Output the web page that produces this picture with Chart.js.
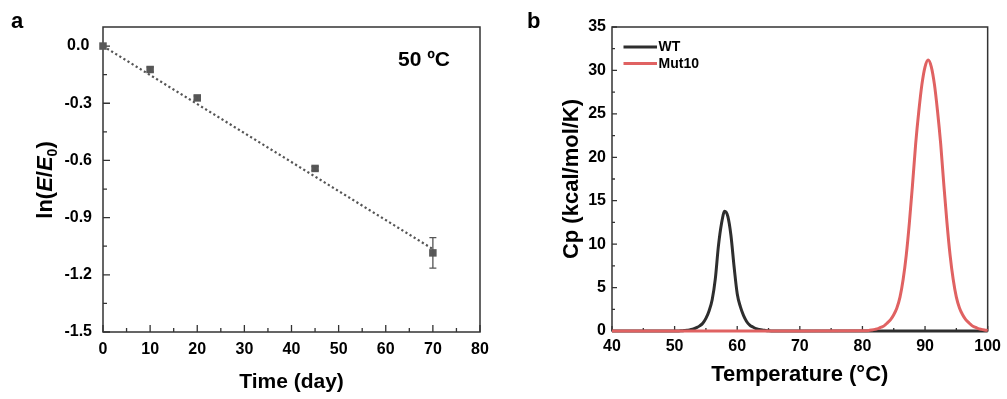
<!DOCTYPE html>
<html><head><meta charset="utf-8">
<script src="https://cdn.jsdelivr.net/npm/chart.js@4/dist/chart.umd.min.js"></script>
<style>
html,body{margin:0;padding:0;background:#fff;}
#wrap{position:relative;width:1007px;height:399px;overflow:hidden;background:#fff;}
#ca{position:absolute;left:0;top:0;}
#cb{position:absolute;left:500px;top:0;}
</style></head><body>
<div id="wrap"><canvas id="ca" width="500" height="399"></canvas><canvas id="cb" width="507" height="399"></canvas></div>
<script>
// ---------- Panel a data ----------
const timeDays = [0, 10, 20, 45, 70];
const lnRatio = [0, -0.123, -0.272, -0.642, -1.085];
const lnRatioErr = [0, 0.012, 0.01, 0.01, 0.08];
const fitDays = [0, 70];
const fitValues = [0, -1.065];
const xTicksA = [0, 10, 20, 30, 40, 50, 60, 70, 80];
const yTicksA = [-1.5, -1.2, -0.9, -0.6, -0.3, 0.0];

// ---------- Panel b data ----------
const tempWT = [40,45,50,50.5,51,51.5,52,52.5,53,53.5,54,54.5,55,55.5,56,56.5,57,57.5,58,58.5,59,59.5,60,60.5,61,61.5,62,62.5,63,63.5,64,64.5,65,66,67,70,80,90,100];
const cpWT   = [0,0,0,0.01,0.02,0.05,0.08,0.15,0.23,0.39,0.59,0.9,1.45,2.3,3.6,6.0,9.8,12.4,13.8,13.2,11.0,7.4,4.3,2.8,1.8,1.1,0.69,0.46,0.28,0.18,0.11,0.07,0.04,0.01,0,0,0,0,0];
const tempMut = [40,50,60,70,80,80.5,81,81.5,82,82.5,83,83.5,84,84.5,85,85.5,86,86.5,87,87.5,88,88.5,89,89.5,90,90.5,91,91.5,92,92.5,93,93.5,94,94.5,95,95.5,96,96.5,97,97.5,98,98.5,99,99.5,100];
const cpMut   = [0,0,0,0,0.02,0.03,0.06,0.12,0.19,0.28,0.44,0.62,0.94,1.31,1.87,2.65,3.9,5.93,8.74,12.48,16.85,21.53,25.27,28.39,30.42,31.2,30.42,28.39,25.27,21.53,16.85,12.48,8.74,5.93,3.9,2.65,1.87,1.31,0.94,0.62,0.44,0.28,0.19,0.12,0.06];
const xTicksB = [40, 50, 60, 70, 80, 90, 100];
const yTicksB = [0, 5, 10, 15, 20, 25, 30, 35];
const seriesNames = ['WT', 'Mut10'];
const seriesColors = ['#2e2e2e', '#e06262'];

const FONT = '"Liberation Sans", Arial, sans-serif';
Chart.defaults.font.family = FONT;
Chart.defaults.color = '#000';

const framePlugin = {
  id: 'frame',
  beforeDatasetsDraw(chart, args, o) {
    const {ctx, chartArea: a, scales} = chart;
    ctx.save();
    ctx.strokeStyle = '#333';
    ctx.lineWidth = 1.5;
    ctx.strokeRect(a.left, a.top, a.right - a.left, a.bottom - a.top);
    ctx.lineWidth = 1.3;
    ctx.beginPath();
    const xs = scales.x, ys = scales.y;
    xs.ticks.forEach((t, i) => {
      const p = xs.getPixelForValue(t.value);
      ctx.moveTo(p, a.bottom); ctx.lineTo(p, a.bottom - o.major);
      if (i < xs.ticks.length - 1) {
        const m = xs.getPixelForValue((t.value + xs.ticks[i + 1].value) / 2);
        ctx.moveTo(m, a.bottom); ctx.lineTo(m, a.bottom - o.minor);
      }
    });
    ys.ticks.forEach((t, i) => {
      const p = ys.getPixelForValue(t.value);
      ctx.moveTo(a.left, p); ctx.lineTo(a.left + o.major, p);
      if (i < ys.ticks.length - 1) {
        const m = ys.getPixelForValue((t.value + ys.ticks[i + 1].value) / 2);
        ctx.moveTo(a.left, m); ctx.lineTo(a.left + o.minor, m);
      }
    });
    ctx.stroke();
    ctx.restore();
  }
};

const errPlugin = {
  id: 'errbars',
  afterDatasetsDraw(chart) {
    const {ctx, scales: {x, y}} = chart;
    ctx.save();
    ctx.strokeStyle = '#555';
    ctx.lineWidth = 1.3;
    ctx.beginPath();
    timeDays.forEach((t, i) => {
      const e = lnRatioErr[i];
      if (!e) return;
      const px = x.getPixelForValue(t);
      const top = y.getPixelForValue(lnRatio[i] + e);
      const bot = y.getPixelForValue(lnRatio[i] - e);
      ctx.moveTo(px, top); ctx.lineTo(px, bot);
      ctx.moveTo(px - 3.5, top); ctx.lineTo(px + 3.5, top);
      ctx.moveTo(px - 3.5, bot); ctx.lineTo(px + 3.5, bot);
    });
    ctx.stroke();
    ctx.restore();
  }
};

const textA = {
  id: 'textA',
  afterDraw(chart) {
    const ctx = chart.ctx;
    ctx.save();
    ctx.fillStyle = '#000';
    ctx.textBaseline = 'alphabetic';
    ctx.textAlign = 'left';
    ctx.font = 'bold 22px ' + FONT;
    ctx.fillText('a', 11, 28);
    ctx.font = 'bold 21px ' + FONT;
    ctx.fillText('50 \u00BAC', 398, 66);
    // y title ln(E/E0)
    const parts = [
      ['ln(', 'bold 22px ' + FONT, 0],
      ['E', 'italic bold 22px ' + FONT, 0],
      ['/', 'bold 22px ' + FONT, 0],
      ['E', 'italic bold 22px ' + FONT, 0],
      ['0', 'bold 14px ' + FONT, 5],
      [')', 'bold 22px ' + FONT, 0]
    ];
    let total = 0;
    parts.forEach(p => { ctx.font = p[1]; total += ctx.measureText(p[0]).width; });
    ctx.translate(44, 180);
    ctx.rotate(-Math.PI / 2);
    let cx = -total / 2;
    parts.forEach(p => {
      ctx.font = p[1];
      ctx.fillText(p[0], cx, 8 + p[2]);
      cx += ctx.measureText(p[0]).width;
    });
    ctx.restore();
  }
};

const textB = {
  id: 'textB',
  afterDraw(chart) {
    const ctx = chart.ctx;
    ctx.save();
    ctx.fillStyle = '#000';
    ctx.textAlign = 'left';
    ctx.textBaseline = 'alphabetic';
    ctx.font = 'bold 22px ' + FONT;
    ctx.fillText('b', 27, 28);
    // legend
    const a = chart.chartArea;
    const order = [0, 1];
    order.forEach((di, k) => {
      const ds = chart.data.datasets[di];
      const yy = 47 + k * 16.6;
      ctx.strokeStyle = ds.borderColor;
      ctx.lineWidth = 3;
      ctx.beginPath();
      ctx.moveTo(a.left + 11.5, yy); ctx.lineTo(a.left + 45, yy);
      ctx.stroke();
      ctx.font = 'bold 14px ' + FONT;
      ctx.textBaseline = 'middle';
      ctx.fillText(ds.label, a.left + 46.5, yy + 0.5);
    });
    ctx.restore();
  }
};

function fixTicks(list) {
  return (scale) => { scale.ticks = list.map(v => ({value: v})); };
}

new Chart(document.getElementById('ca'), {
  type: 'scatter',
  data: {
    datasets: [
      {
        label: 'data',
        data: timeDays.map((t, i) => ({x: t, y: lnRatio[i]})),
        pointStyle: 'rect',
        pointRadius: 5.3,
        backgroundColor: '#585858',
        borderColor: '#585858',
        borderWidth: 0,
        clip: false
      },
      {
        label: 'fit',
        data: fitDays.map((t, i) => ({x: t, y: fitValues[i]})),
        showLine: true,
        borderColor: '#555',
        borderWidth: 2.2,
        borderDash: [2.2, 2.6],
        pointRadius: 0,
        clip: false
      }
    ]
  },
  options: {
    responsive: false,
    devicePixelRatio: 1,
    animation: false,
    events: [],
    layout: {padding: {left: 0, right: 20, top: 27, bottom: 0}},
    plugins: {legend: {display: false}, tooltip: {enabled: false}, frame: {major: 7, minor: 4}},
    scales: {
      x: {
        type: 'linear', min: 0, max: 80,
        afterBuildTicks: fixTicks(xTicksA),
        afterFit: (s) => { s.height = 67; },
        grid: {display: false, drawTicks: false},
        border: {display: false},
        ticks: {padding: 8, font: {size: 16, weight: 'bold'}, color: '#000', maxRotation: 0, callback: (v) => String(v)},
        title: {display: true, text: 'Time (day)', font: {size: 21, weight: 'bold'}, color: '#000', padding: {top: 0, bottom: 4.5}}
      },
      y: {
        type: 'linear', min: -1.5, max: 0.1,
        afterBuildTicks: fixTicks(yTicksA),
        afterFit: (s) => { s.width = 103; },
        grid: {display: false, drawTicks: false},
        border: {display: false},
        ticks: {padding: 11, crossAlign: 'center', font: {size: 16, weight: 'bold'}, color: '#000', callback: (v) => Number(v).toFixed(1)}
      }
    }
  },
  plugins: [framePlugin, errPlugin, textA]
});

new Chart(document.getElementById('cb'), {
  type: 'line',
  data: {
    datasets: [
      {
        label: seriesNames[0],
        data: tempWT.map((t, i) => ({x: t, y: cpWT[i]})),
        borderColor: seriesColors[0],
        backgroundColor: seriesColors[0],
        borderWidth: 3,
        pointRadius: 0,
        cubicInterpolationMode: 'monotone',
        order: 1,
        clip: 4
      },
      {
        label: seriesNames[1],
        data: tempMut.map((t, i) => ({x: t, y: cpMut[i]})),
        borderColor: seriesColors[1],
        backgroundColor: seriesColors[1],
        borderWidth: 3,
        pointRadius: 0,
        cubicInterpolationMode: 'monotone',
        order: 0,
        clip: 4
      }
    ]
  },
  options: {
    responsive: false,
    devicePixelRatio: 1,
    animation: false,
    events: [],
    layout: {padding: {left: 0, right: 18, top: 27, bottom: 0}},
    plugins: {legend: {display: false}, tooltip: {enabled: false}, frame: {major: 5, minor: 3}},
    scales: {
      x: {
        type: 'linear', min: 40, max: 100,
        afterBuildTicks: fixTicks(xTicksB),
        afterFit: (s) => { s.height = 68; },
        grid: {display: false, drawTicks: false},
        border: {display: false},
        ticks: {padding: 6, font: {size: 16, weight: 'bold'}, color: '#000', maxRotation: 0, callback: (v) => String(v)},
        title: {display: true, text: 'Temperature (\u00B0C)', font: {size: 22, weight: 'bold'}, color: '#000', padding: {top: 0, bottom: 11}}
      },
      y: {
        type: 'linear', min: 0, max: 35,
        afterBuildTicks: fixTicks(yTicksB),
        afterFit: (s) => { s.width = 112; },
        grid: {display: false, drawTicks: false},
        border: {display: false},
        ticks: {padding: 6, font: {size: 16, weight: 'bold'}, color: '#000', callback: (v) => String(v)},
        title: {display: true, text: 'Cp (kcal/mol/K)', font: {size: 22, weight: 'bold'}, color: '#000', padding: {top: 59, bottom: 0}}
      }
    }
  },
  plugins: [framePlugin, textB]
});
</script>
</body></html>
